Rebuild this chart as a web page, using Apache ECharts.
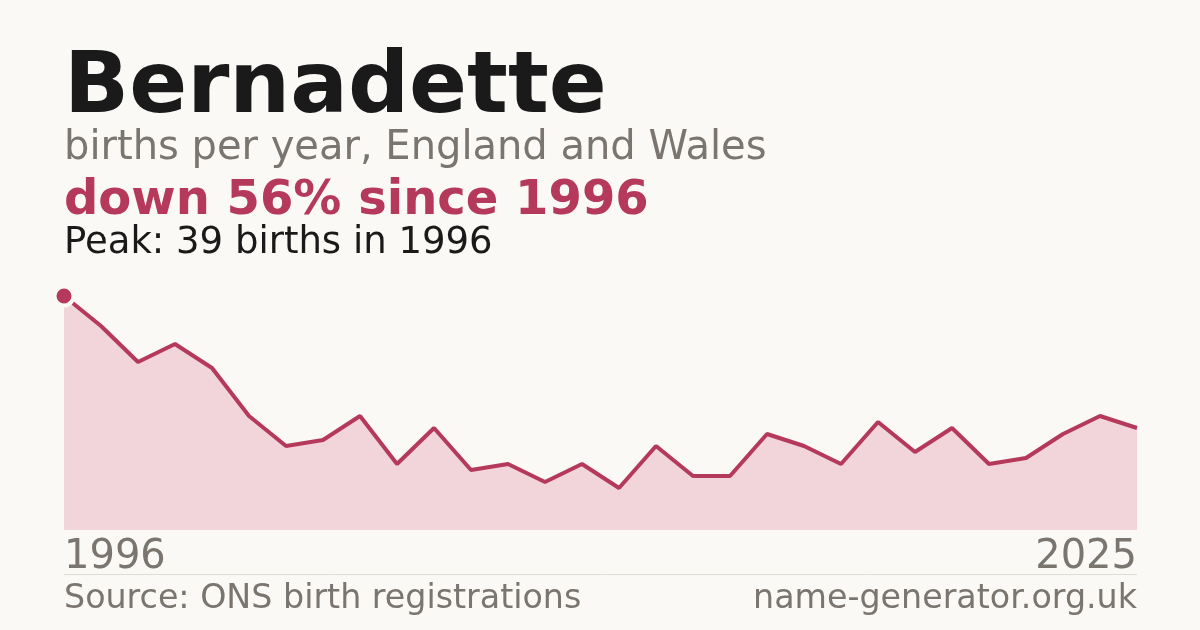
<!DOCTYPE html>
<html>
<head>
<meta charset="utf-8">
<script src="https://cdn.jsdelivr.net/npm/echarts@6/dist/echarts.min.js"></script>
<style>
  html, body { margin: 0; padding: 0; background: #faf9f5; }
  #chart { width: 1200px; height: 630px; }
</style>
</head>
<body>
<div id="chart"></div>
<script>
// data
var years = [];
for (var y = 1996; y <= 2025; y++) years.push(String(y));
var births = [39, 34, 28, 31, 27, 19, 14, 15, 19, 11, 17, 10, 11, 8, 11, 7, 14, 9, 9, 16, 14, 11, 18, 13, 17, 11, 12, 16, 19, 17];
var peakIndex = 0;

var RED = '#b5395a';
var GRAY = '#7a756e';
var BG = '#faf9f5';
var FONT = 'DejaVu Sans';

var chart = echarts.init(document.getElementById('chart'), null, { renderer: 'canvas' });

chart.setOption({
  backgroundColor: BG,
  animation: false,
  grid: { left: 64, right: 63, top: 296, bottom: 100 },
  xAxis: {
    type: 'category',
    boundaryGap: false,
    data: years,
    axisLine: { show: false },
    axisTick: { show: false },
    splitLine: { show: false },
    axisLabel: {
      interval: function (i) { return i === 0 || i === years.length - 1; },
      alignMinLabel: 'left',
      alignMaxLabel: 'right',
      fontFamily: FONT,
      fontSize: 40,
      color: GRAY,
      margin: 8
    }
  },
  yAxis: {
    type: 'value',
    min: 0,
    max: 39,
    show: false
  },
  series: [{
    type: 'line',
    data: births.map(function (v, i) {
      if (i === peakIndex) {
        return {
          value: v,
          symbol: 'circle',
          symbolSize: 19,
          itemStyle: { color: RED, borderColor: BG, borderWidth: 4 }
        };
      }
      return { value: v, symbol: 'none' };
    }),
    showSymbol: true,
    lineStyle: { color: RED, width: 4 },
    itemStyle: { color: RED },
    areaStyle: { color: '#f2d5db', opacity: 1 },
    z: 2
  }],
  graphic: [
    { type: 'text', left: 64, top: 47, style: { text: 'Bernadette', fontFamily: FONT, fontWeight: 'bold', fontSize: 85.5, fill: '#1a1a1a' } },
    { type: 'text', left: 64, top: 129, style: { text: 'births per year, England and Wales', fontFamily: FONT, fontSize: 40, fill: GRAY } },
    { type: 'text', left: 64, top: 178, style: { text: 'down 56% since 1996', fontFamily: FONT, fontWeight: 'bold', fontSize: 48, fill: RED } },
    { type: 'text', left: 64, top: 225, style: { text: 'Peak: 39 births in 1996', fontFamily: FONT, fontSize: 37, fill: '#1a1a1a' } },
    { type: 'line', shape: { x1: 64, y1: 574.5, x2: 1137, y2: 574.5 }, style: { stroke: '#e0ddd6', lineWidth: 1 } },
    { type: 'text', left: 64, top: 583, style: { text: 'Source: ONS birth registrations', fontFamily: FONT, fontSize: 33.3, fill: GRAY } },
    { type: 'text', right: 63, top: 583, style: { text: 'name-generator.org.uk', fontFamily: FONT, fontSize: 33.3, fill: GRAY } }
  ]
});
</script>
</body>
</html>
